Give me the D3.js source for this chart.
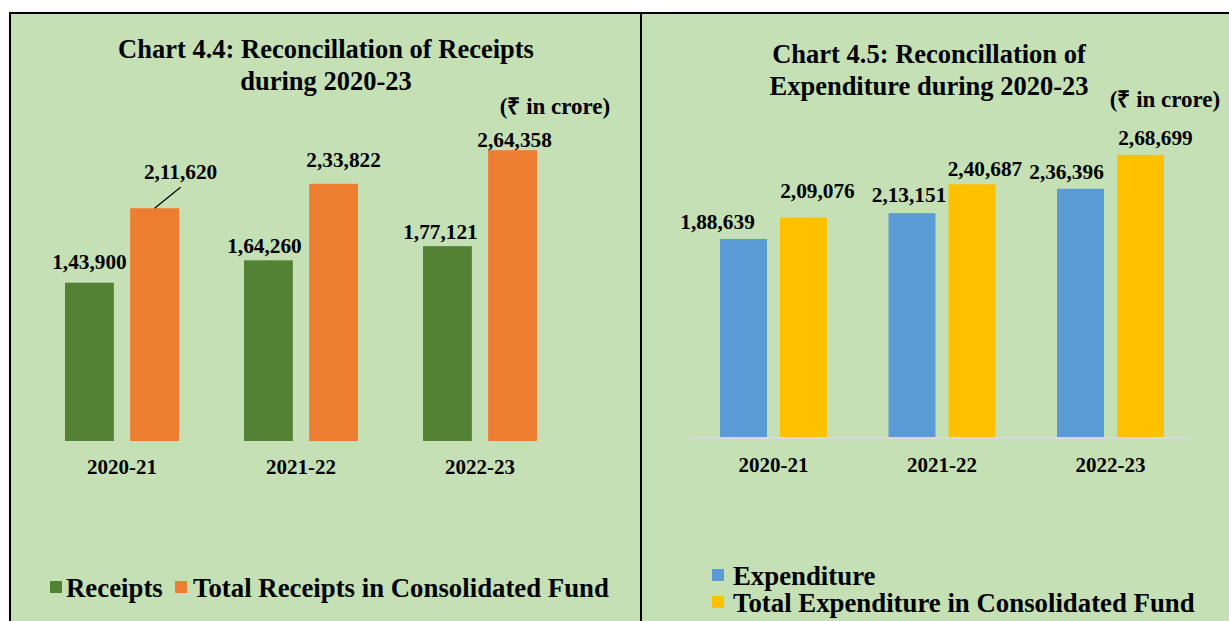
<!DOCTYPE html>
<html>
<head>
<meta charset="utf-8">
<script src="https://cdn.jsdelivr.net/npm/d3@7"></script>
<style>
  html, body { margin: 0; padding: 0; background: #ffffff; }
  svg { display: block; }
  text { font-family: "Liberation Serif", "Times New Roman", serif; font-weight: bold; fill: #000; }
</style>
</head>
<body>
<svg id="chart" width="1229" height="621"></svg>
<script>
// ---- data ----
const years = ["2020-21", "2021-22", "2022-23"];

const receiptSeries = ["Receipts", "Total Receipts in Consolidated Fund"];
const receipts = [143900, 164260, 177121];
const totalReceipts = [211620, 233822, 264358];

const expenditureSeries = ["Expenditure", "Total Expenditure in Consolidated Fund"];
const expenditure = [188639, 213151, 236396];
const totalExpenditure = [209076, 240687, 268699];

// ---- helpers ----
const svg = d3.select("#chart");
const bg = "#c5e0b4";

// Indian digit grouping: 2,64,358
function inr(v) {
  const s = String(Math.round(v));
  if (s.length <= 3) return s;
  const last3 = s.slice(-3);
  let rest = s.slice(0, -3);
  const parts = [];
  while (rest.length > 2) { parts.unshift(rest.slice(-2)); rest = rest.slice(0, -2); }
  if (rest.length) parts.unshift(rest);
  return parts.join(",") + "," + last3;
}

// panel frames
svg.append("rect").attr("x", 10).attr("y", 13).attr("width", 631).attr("height", 640)
  .attr("fill", bg).attr("stroke", "#000").attr("stroke-width", 2);
svg.append("rect").attr("x", 641).attr("y", 13).attr("width", 640).attr("height", 640)
  .attr("fill", bg).attr("stroke", "#000").attr("stroke-width", 2);

function drawPanel(cfg) {
  const g = svg.append("g");

  // titles
  cfg.title.forEach((t, i) => {
    g.append("text").attr("x", cfg.titleX).attr("y", cfg.titleY + i * 32)
      .attr("text-anchor", "middle").attr("font-size", 26.5).text(t);
  });
  g.append("text").attr("x", cfg.unitX).attr("y", cfg.unitY)
    .attr("text-anchor", "middle").attr("font-size", 23).text("(\u20B9 in crore)");

  const x0 = d3.scaleBand().domain(years).range(cfg.xRange)
    .paddingInner(cfg.groupPad).paddingOuter(cfg.groupPad / 2);
  const x1 = d3.scaleBand().domain(cfg.series).range([0, x0.bandwidth()]).paddingInner(cfg.barPad);
  const y = d3.scaleLinear().domain([0, 300000]).range(cfg.yRange);

  const rows = years.map((yr, i) => ({
    year: yr,
    vals: cfg.series.map((s, j) => ({ s, j, i, v: cfg.values[j][i] }))
  }));

  // baseline
  if (cfg.axisLine) {
    g.append("line").attr("x1", cfg.xRange[0]).attr("x2", cfg.xRange[1] - 3)
      .attr("y1", y(0) + 1).attr("y2", y(0) + 1)
      .attr("stroke", "#d9d9d9").attr("stroke-width", 2);
  }

  const grp = g.selectAll("g.grp").data(rows).join("g")
    .attr("transform", d => `translate(${x0(d.year)},0)`);

  grp.selectAll("rect").data(d => d.vals).join("rect")
    .attr("x", d => x1(d.s))
    .attr("width", x1.bandwidth())
    .attr("y", d => y(d.v))
    .attr("height", d => y(0) - y(d.v))
    .attr("fill", d => cfg.colors[d.j]);

  // value labels (manually nudged like the original layout)
  grp.selectAll("text.val").data(d => d.vals).join("text")
    .attr("class", "val")
    .attr("x", d => x1(d.s) + x1.bandwidth() / 2 + cfg.nudge[d.j][d.i][0])
    .attr("y", d => y(d.v) + cfg.nudge[d.j][d.i][1])
    .attr("text-anchor", "middle").attr("font-size", 21.3)
    .text(d => inr(d.v));

  // category axis
  const ax = g.append("g").attr("transform", `translate(0,${y(0)})`)
    .call(d3.axisBottom(x0).tickSize(0).tickPadding(cfg.tickPad));
  ax.select(".domain").remove();
  ax.selectAll("text").attr("font-size", 21).attr("fill", "#000")
    .style("font-family", "Liberation Serif, serif").style("font-weight", "bold");

  // leader lines
  (cfg.leaders || []).forEach(L => {
    const xi = x0(years[L.i]) + x1(cfg.series[L.j]) + x1.bandwidth() / 2;
    const yi = y(cfg.values[L.j][L.i]);
    g.append("line").attr("x1", xi).attr("y1", yi).attr("x2", xi + L.dx).attr("y2", yi + L.dy)
      .attr("stroke", "#000").attr("stroke-width", 1.2);
  });

  // legend
  cfg.legend.forEach((item, k) => {
    g.append("rect").attr("x", item.x).attr("y", item.y - 16).attr("width", 12).attr("height", 12)
      .attr("fill", cfg.colors[k]);
    g.append("text").attr("x", item.x + item.gap).attr("y", item.y)
      .attr("font-size", 26.8).text(cfg.series[k]);
  });
}

drawPanel({
  title: ["Chart 4.4: Reconcillation of Receipts", "during 2020-23"],
  titleX: 326, titleY: 58, unitX: 555, unitY: 114,
  series: receiptSeries,
  values: [receipts, totalReceipts],
  colors: ["#548235", "#ed7d31"],
  xRange: [32.5, 569.5], groupPad: 0.363, barPad: 0.25,
  yRange: [441, 111],
  axisLine: false, tickPad: 18,
  nudge: [
    [[0, -14], [-4, -7], [-7, -7]],
    [[26, -29], [10, -17], [2, -3]]
  ],
  leaders: [{ j: 1, i: 0, dx: 26, dy: -21 }],
  legend: [{ x: 50, y: 597, gap: 16 }, { x: 175, y: 597, gap: 18 }]
});

drawPanel({
  title: ["Chart 4.5: Reconcillation of", "Expenditure during 2020-23"],
  titleX: 929, titleY: 63, unitX: 1165, unitY: 107,
  series: expenditureSeries,
  values: [expenditure, totalExpenditure],
  colors: ["#5b9bd5", "#ffc000"],
  xRange: [689.25, 1194.75], groupPad: 0.365, barPad: 0.217,
  yRange: [437, 122],
  axisLine: true, tickPad: 20,
  nudge: [
    [[-26, -10], [-3, -11], [-14, -10]],
    [[14, -19], [13, -8], [15, -10]]
  ],
  legend: [{ x: 712, y: 585, gap: 21 }, { x: 712, y: 612, gap: 21 }]
});
</script>
</body>
</html>
